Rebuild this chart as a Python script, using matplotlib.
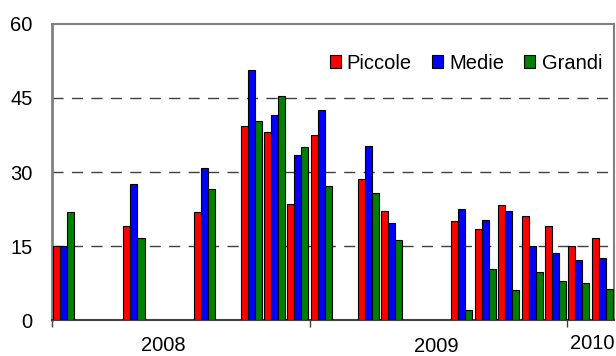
import numpy as np
import matplotlib
matplotlib.use("Agg")
import matplotlib.pyplot as plt

nan = np.nan

# 24 period slots along the x axis, empty slots are NaN
piccole = [15.0, nan, nan, 19.0, nan, nan, 21.9, nan, 39.3, 38.1, 23.5, 37.5,
           nan, 28.5, 22.0, nan, nan, 20.1, 18.4, 23.3, 21.0, 19.0, 14.9, 16.6]
medie = [15.1, nan, nan, 27.6, nan, nan, 30.8, nan, 50.6, 41.5, 33.5, 42.5,
         nan, 35.3, 19.6, nan, nan, 22.6, 20.3, 22.1, 14.9, 13.5, 12.2, 12.6]
grandi = [21.9, nan, nan, 16.6, nan, nan, 26.6, nan, 40.4, 45.4, 35.1, 27.2,
          nan, 25.7, 16.2, nan, nan, 2.0, 10.3, 6.0, 9.7, 8.0, 7.6, 6.3]

series = ["Piccole", "Medie", "Grandi"]
colors = ["#ff0000", "#0000ff", "#008000"]
year_labels = ["2008", "2009", "2010"]
year_pos = [4.75, 16.4, 23.05]
year_ticks = [0, 11, 22]
yticks = [0, 15, 30, 45, 60]

plt.rcParams["font.family"] = ["Liberation Sans", "DejaVu Sans"]
fig = plt.figure(figsize=(6.16, 3.56), dpi=100)
ax = fig.add_axes([0.0844, 0.1011, 0.9125, 0.8315])

x = np.arange(len(piccole)) + 0.5
w = 0.3
for k, (name, vals, c) in enumerate(zip(series, [piccole, medie, grandi], colors)):
    ax.bar(x + (k - 1) * w, vals, width=w, color=c, edgecolor="black",
           linewidth=0.8, label=name, zorder=3)

ax.set_xlim(0, 24)
ax.set_ylim(0, 60)
ax.set_yticks(yticks)
ax.tick_params(axis="y", length=0, pad=14, labelsize=14.5)
ax.set_xticks(year_ticks)
ax.set_xticklabels([])
ax.tick_params(axis="x", length=5, width=1, color="#404040", direction="out")

for yv in yticks[1:-1]:
    ax.axhline(yv, color="#404040", lw=1, dashes=(8, 6), zorder=1)

for name, sp in ax.spines.items():
    sp.set_color("#808080")
    sp.set_linewidth(1.5)
ax.spines["left"].set_linewidth(2)
ax.spines["bottom"].set_color("#404040")

# year labels sit at slightly different heights, as in the source chart
year_y = [-0.104, -0.108, -0.098]
for lab, xp, yp in zip(year_labels, year_pos, year_y):
    ax.text(xp, yp, lab, transform=ax.get_xaxis_transform(), ha="center",
            va="baseline", fontsize=14.5)

ax.legend(loc="center right", bbox_to_anchor=(1.0, 0.868), ncol=3, frameon=False,
          fontsize=14.5, handlelength=0.55, handleheight=0.55, handletextpad=0.3,
          columnspacing=1.0, borderaxespad=0.2)

fig.savefig("out.png", dpi=100)
